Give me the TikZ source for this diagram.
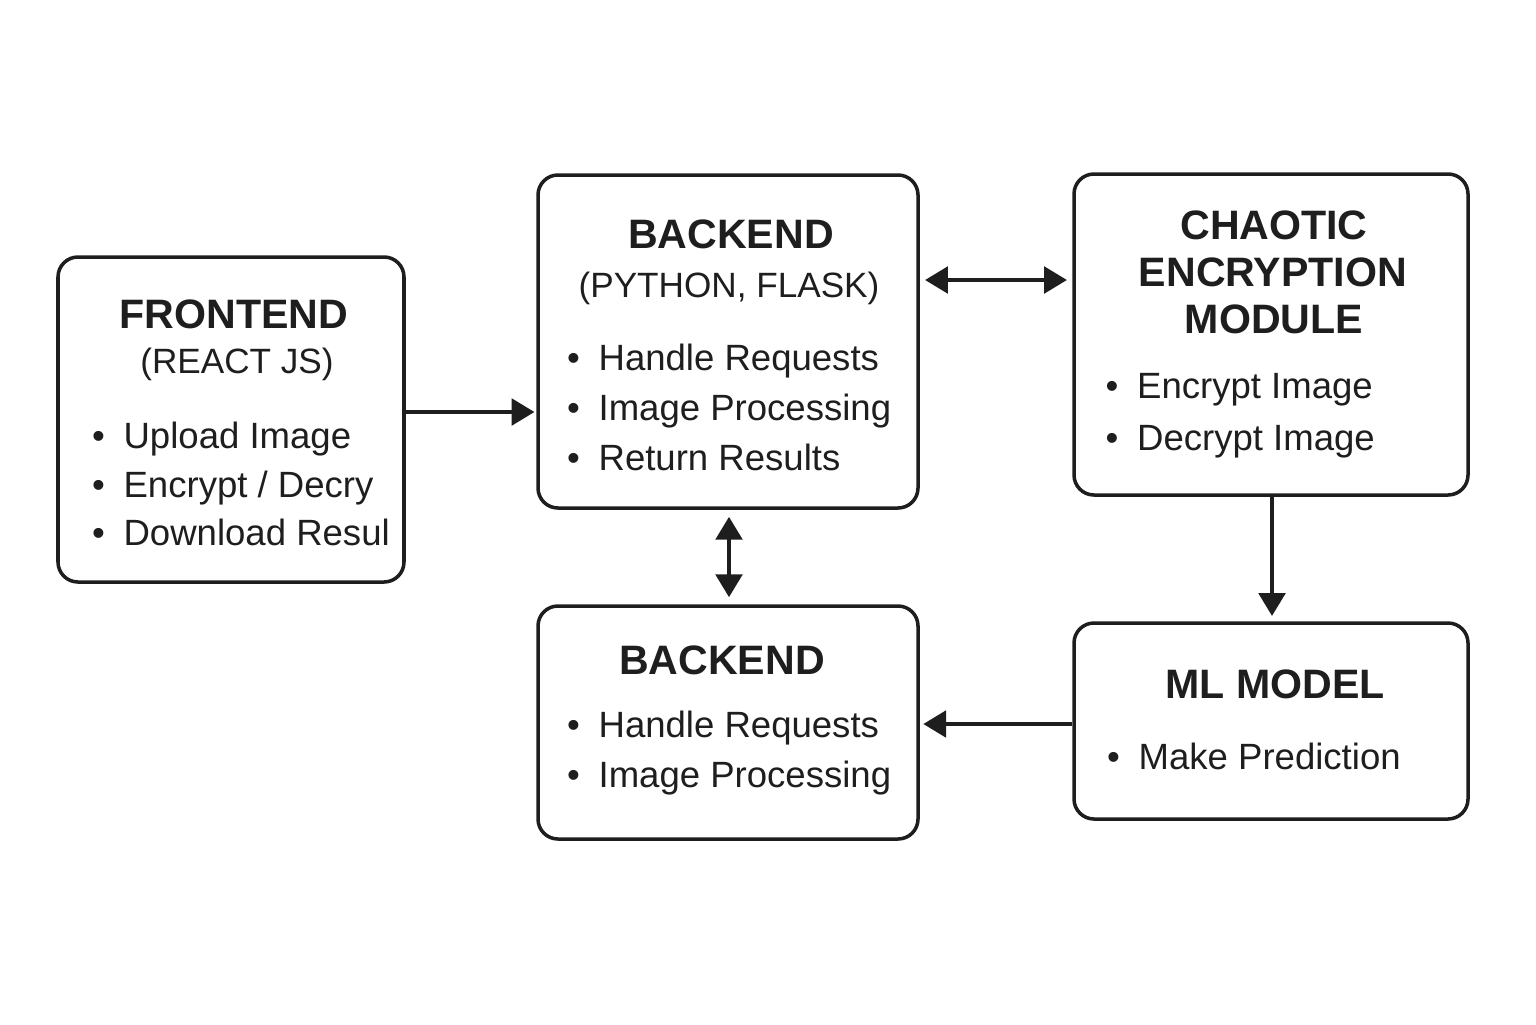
\documentclass[tikz,border=0pt]{standalone}
\usepackage{fontspec}
\setmainfont{Liberation Sans}
\usepackage{xcolor}
\usetikzlibrary{arrows.meta}
\definecolor{ink}{HTML}{1E1E1E}

\begin{document}
\begin{tikzpicture}[
    box/.style = {rectangle, draw=ink, line width=1pt, rounded corners=2mm,
                 fill=white, inner sep=0pt},
    ttl/.style = {anchor=base, text=ink, font=\fontsize{11.7}{14}\selectfont\bfseries},
    sub/.style = {anchor=base, text=ink, font=\fontsize{10}{12}\selectfont},
    itm/.style = {anchor=base west, text=ink, inner sep=0pt,
                 font=\fontsize{10.4}{12}\selectfont},
    arr/.style = {draw=ink, line width=1.2pt, -{Triangle[length=6.5pt,width=7.5pt]}},
    dbl/.style = {draw=ink, line width=1.2pt,
                 {Triangle[length=6.5pt,width=7.5pt]}-{Triangle[length=6.5pt,width=7.5pt]}}
]
\useasboundingbox (0,0) rectangle (15.36,-10.24);

% Boxes
\node[box, minimum width=3.46cm, minimum height=3.25cm] (front) at (2.31,-4.195) {};
\node[box, minimum width=3.80cm, minimum height=3.33cm] (back1) at (7.28,-3.415) {};
\node[box, minimum width=3.94cm, minimum height=3.21cm] (chaos) at (12.71,-3.345) {};
\node[box, minimum width=3.80cm, minimum height=2.33cm] (back2) at (7.28,-7.225) {};
\node[box, minimum width=3.94cm, minimum height=1.96cm] (ml) at (12.71,-7.21) {};

% Frontend
\node[ttl] (fTitle) at (2.34,-3.28) {FRONTEND};
\node[sub] (fSub) at (2.37,-3.73) {(REACT JS)};
\node[itm] (fItem1) at (0.915,-4.48) {\textbullet\hspace{5.3pt}Upload Image};
\node[itm] (fItem2) at (0.915,-4.97) {\textbullet\hspace{5.3pt}Encrypt / Decry};
\node[itm] (fItem3) at (0.915,-5.45) {\textbullet\hspace{5.3pt}Download Resul};

% Backend (top)
\node[ttl] (bTitle) at (7.31,-2.48) {BACKEND};
\node[sub] (bSub) at (7.29,-2.97) {(PYTHON, FLASK)};
\node[itm] (bItem1) at (5.665,-3.70) {\textbullet\hspace{5.3pt}Handle Requests};
\node[itm] (bItem2) at (5.665,-4.20) {\textbullet\hspace{5.3pt}Image Processing};
\node[itm] (bItem3) at (5.665,-4.70) {\textbullet\hspace{5.3pt}Return Results};

% Chaotic encryption module
\node[ttl] (cTitle1) at (12.74,-2.39) {CHAOTIC};
\node[ttl] (cTitle2) at (12.73,-2.86) {ENCRYPTION};
\node[ttl] (cTitle3) at (12.74,-3.33) {MODULE};
\node[itm] (cItem1) at (11.05,-3.98) {\textbullet\hspace{5.3pt}Encrypt Image};
\node[itm] (cItem2) at (11.05,-4.50) {\textbullet\hspace{5.3pt}Decrypt Image};

% Backend (bottom)
\node[ttl] (dTitle) at (7.22,-6.74) {BACKEND};
\node[itm] (dItem1) at (5.665,-7.37) {\textbullet\hspace{5.3pt}Handle Requests};
\node[itm] (dItem2) at (5.665,-7.87) {\textbullet\hspace{5.3pt}Image Processing};

% ML model
\node[ttl] (mTitle) at (12.75,-6.98) {ML MODEL};
\node[itm] (mItem1) at (11.065,-7.69) {\textbullet\hspace{5.3pt}Make Prediction};

% Connectors
\draw[arr, shorten >=0.5pt] ([yshift=0.075cm]front.east) -- ([yshift=0.075cm]front.east -| back1.west);
\draw[dbl, shorten <=1.5pt, shorten >=1.5pt] ([yshift=0.615cm]back1.east) -- ([yshift=0.615cm]back1.east -| chaos.west);
\draw[dbl, shorten <=2pt, shorten >=2pt] ([xshift=0.01cm]back1.south) -- ([xshift=0.01cm]back2.north);
\draw[arr, shorten >=1.5pt] ([xshift=0.01cm]chaos.south) -- ([xshift=0.01cm]ml.north);
\draw[arr, shorten >=1pt] ([yshift=-0.03cm]ml.west) -- ([yshift=-0.03cm]ml.west -| back2.east);

\end{tikzpicture}
\end{document}
